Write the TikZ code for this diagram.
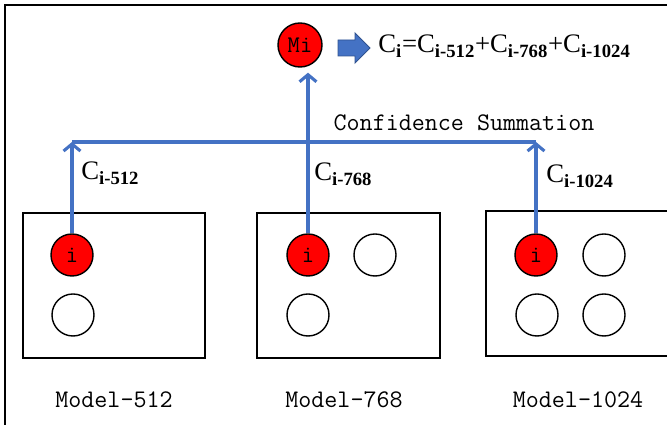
\documentclass[tikz,border=0pt]{standalone}
\usepackage{fontspec}
\setmainfont{Liberation Serif}
\usetikzlibrary{arrows.meta}
\definecolor{lineblue}{RGB}{68,114,196}
\definecolor{edgeblue}{RGB}{47,82,143}

\begin{document}
\begin{tikzpicture}[x=0.025cm,y=-0.025cm,>={Straight Barb[length=5pt,width=12pt]},
    model/.style={draw,line width=1.4pt,minimum width=#1,minimum height=3.625cm,inner sep=0pt},
    hit/.style={circle,draw,fill=red,line width=1pt,minimum size=1.05cm,inner sep=0pt,font=\ttfamily\fontsize{17}{17}\selectfont},
    dot/.style={circle,draw,line width=1pt,minimum size=1.05cm,inner sep=0pt},
    conn/.style={lineblue,line width=2.2pt},
    mono/.style={font=\ttfamily\fontsize{18}{20}\selectfont,inner sep=0pt},
    cval/.style={font=\fontsize{19}{22}\selectfont,anchor=base west,inner sep=0pt}]
        \useasboundingbox (0,0) rectangle (667,425);
        \draw[line width=1.7pt] (5,425) -- (5,5) -- (667,5); % рамка

        % модели
        \node[model=4.55cm] (m512) at (114,285.5) {};
        \node[model=4.575cm] (m768) at (348.5,285.5) {};
        \node[model=4.6cm] (m1024) at (578,283.5) {};

        \node[hit] (h512) at (72,255) {i};
        \node[dot] (d512) at (73,315) {};

        \node[hit] (h768) at (308,255) {i};
        \node[dot] (d768a) at (375,255) {};
        \node[dot] (d768b) at (308,315) {};

        \node[hit] (h1024) at (536,255) {i};
        \node[dot] (d1024a) at (604,255) {};
        \node[dot] (d1024b) at (537,315) {};
        \node[dot] (d1024c) at (604,315) {};

        \node[mono] (t512) at (114,400) {Model-512};
        \node[mono] (t768) at (344,400) {Model-768};
        \node[mono] (t1024) at (578,400) {Model-1024};

        % суммирование
        \node[hit,minimum size=1.1cm] (mi) at (300,45) {Mi};
        \coordinate (sum1) at (72,142);
        \coordinate (sum3) at (536,142);
        \draw[conn] (sum1) -- (sum3);
        \draw[conn,->] (h512.north) -- (sum1);
        \draw[conn,->] (h1024.north) -- (sum3);
        \draw[conn,->,shorten >=0.125cm] (h768.north) -- (h768.north |- mi.south);

        \node[mono] (conf) at (464,123) {Confidence Summation};
        \node[cval] (c512) at (81,180) {C\textsubscript{\textbf{i-512}}};
        \node[cval] (c768) at (314,181) {C\textsubscript{\textbf{i-768}}};
        \node[cval] (c1024) at (546,183) {C\textsubscript{\textbf{i-1024}}};

        \fill[lineblue,draw=edgeblue,line width=0.6pt] (338,40) -- (355,40) -- (355,33) -- (370,48) -- (355,63) -- (355,56) -- (338,56) -- cycle; % стрелка
        \node[cval] (sum) at (378,53) {C\textsubscript{\textbf{i}}=C\textsubscript{\textbf{i-512}}+C\textsubscript{\textbf{i-768}}+C\textsubscript{\textbf{i-1024}}};
    \end{tikzpicture}
\end{document}
